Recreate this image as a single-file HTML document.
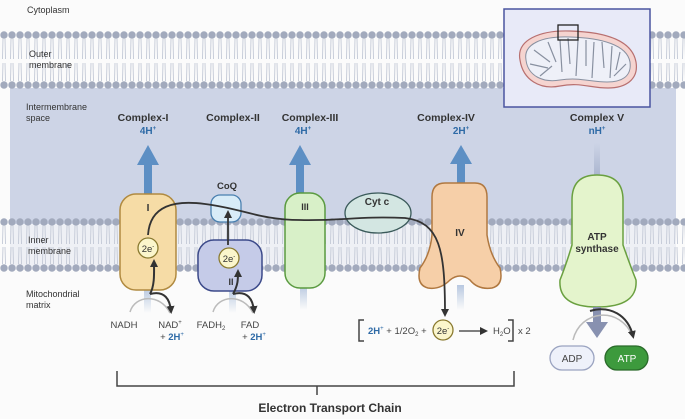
<!DOCTYPE html>
<html><head><meta charset="utf-8"><style>
html,body{margin:0;padding:0;background:#fbfbfb;}
svg{display:block;font-family:"Liberation Sans",sans-serif;}
</style></head><body>
<svg width="685" height="419" viewBox="0 0 685 419" xmlns="http://www.w3.org/2000/svg">
<defs>
<pattern id="lipO" x="0" y="0" width="8" height="58" patternUnits="userSpaceOnUse">
<path d="M3 8 L2.5 28 M5 8 L5.5 28 M3 32 L2.5 50 M5 32 L5.5 50" stroke="#c3c9d6" stroke-width="0.9" fill="none"/>
<circle cx="4" cy="4" r="3.7" fill="#a2aabd"/>
<circle cx="4" cy="54" r="3.7" fill="#a2aabd"/>
</pattern>
<pattern id="lipI" x="0" y="0" width="8" height="54" patternUnits="userSpaceOnUse">
<path d="M3 8 L2.5 26 M5 8 L5.5 26 M3 29 L2.5 46 M5 29 L5.5 46" stroke="#c3c9d6" stroke-width="0.9" fill="none"/>
<circle cx="4" cy="4" r="3.7" fill="#a2aabd"/>
<circle cx="4" cy="50" r="3.7" fill="#a2aabd"/>
</pattern>
<linearGradient id="fade" x1="0" y1="0" x2="0" y2="1"><stop offset="0" stop-color="#b8c8e0"/><stop offset="1" stop-color="#b8c8e0" stop-opacity="0"/></linearGradient>
<linearGradient id="fadeup" x1="0" y1="1" x2="0" y2="0"><stop offset="0" stop-color="#aab5cf"/><stop offset="1" stop-color="#aab5cf" stop-opacity="0"/></linearGradient>
<marker id="ah" markerWidth="8" markerHeight="8" refX="5" refY="4" orient="auto" markerUnits="userSpaceOnUse"><path d="M0 0 L8 4 L0 8 Z" fill="#333"/></marker>
</defs>
<rect width="685" height="419" fill="#fbfbfb"/>
<!-- intermembrane space -->
<rect x="10" y="88" width="666" height="182" fill="#cdd4e6"/>
<rect x="10" y="224" width="666" height="46" fill="#eef0f5"/>
<!-- membranes -->
<g transform="translate(0,31)"><rect x="0" y="0" width="685" height="58" fill="url(#lipO)"/></g>
<g transform="translate(0,218)"><rect x="0" y="0" width="685" height="54" fill="url(#lipI)"/></g>

<!-- text labels -->
<g font-size="9" fill="#333">
<text x="27" y="13">Cytoplasm</text>
<text x="29" y="57">Outer</text><text x="29" y="68">membrane</text>
<text x="26" y="110">Intermembrane</text><text x="26" y="121">space</text>
<text x="28" y="243">Inner</text><text x="28" y="254">membrane</text>
<text x="26" y="297">Mitochondrial</text><text x="26" y="308">matrix</text>
</g>
<g font-size="10.5" font-weight="bold" fill="#333" text-anchor="middle">
<text x="143" y="121">Complex-I</text>
<text x="233" y="121">Complex-II</text>
<text x="310" y="121">Complex-III</text>
<text x="446" y="121">Complex-IV</text>
<text x="597" y="121">Complex V</text>
</g>
<g font-size="10" font-weight="bold" fill="#2e6aa6" text-anchor="middle">
<text x="148" y="134">4H<tspan font-size="6" dy="-4">+</tspan></text>
<text x="303" y="134">4H<tspan font-size="6" dy="-4">+</tspan></text>
<text x="461" y="134">2H<tspan font-size="6" dy="-4">+</tspan></text>
<text x="597" y="134">nH<tspan font-size="6" dy="-4">+</tspan></text>
</g>
<!-- blue arrows -->
<g fill="#5d8fc4">
<path d="M144 195 V165 H137 L148 145 L159 165 H152 V195 Z"/>
<path d="M296 195 V165 H289 L300 145 L311 165 H304 V195 Z"/>
<path d="M457 185 V164 H450 L461 145 L472 164 H465 V185 Z"/>
</g>
<rect x="594" y="143" width="6" height="33" fill="url(#fadeup)"/>
<rect x="144" y="288" width="7" height="25" fill="url(#fade)"/>
<rect x="229" y="288" width="7" height="25" fill="url(#fade)"/>
<rect x="300" y="285" width="7" height="25" fill="url(#fade)"/>
<rect x="457" y="285" width="7" height="25" fill="url(#fade)"/>

<!-- inset -->
<rect x="504" y="9" width="146" height="98" fill="#e8eaf8" stroke="#4a55a0" stroke-width="1.5"/>
<path d="M520 60 C516 40 540 30 570 31 C605 32 632 40 636 62 C639 80 625 88 608 88 C590 88 580 82 560 86 C540 90 523 80 520 60 Z" fill="#f5d4d0" stroke="#b87070" stroke-width="1.2"/>
<path d="M526 60 C523 44 542 36 570 37 C602 38 627 45 630 62 C632 77 621 82 607 82 C590 82 580 77 560 80 C543 83 528 76 526 60 Z" fill="#eef0f8" stroke="#8890a0" stroke-width="1"/>
<g stroke="#8890a0" stroke-width="1.2" fill="none">
<path d="M534 50 L550 62 M530 64 L548 68 M540 76 L552 66 M548 42 L556 62 M560 40 L562 72 M568 38 L570 64 M578 40 L576 76 M586 40 L586 66 M594 42 L592 78 M602 42 L604 68 M612 46 L610 78 M620 52 L616 70 M626 64 L614 76"/>
</g>
<rect x="558" y="25" width="20" height="15" fill="none" stroke="#222" stroke-width="1.3"/>

<!-- Complex I -->
<rect x="120" y="194" width="56" height="96" rx="16" fill="#f6dca6" stroke="#b08a40" stroke-width="1.5"/>
<text x="148" y="211" font-size="10" font-weight="bold" fill="#333" text-anchor="middle">I</text>
<!-- CoQ -->
<text x="227" y="189" font-size="9.5" font-weight="bold" fill="#333" text-anchor="middle">CoQ</text>
<rect x="211" y="195" width="30" height="27" rx="9" fill="#d8ecf8" stroke="#4a80b0" stroke-width="1.3"/>
<!-- Complex II -->
<rect x="198" y="240" width="64" height="51" rx="16" fill="#c5cbe8" stroke="#3c4a8a" stroke-width="1.5"/>
<text x="231" y="285" font-size="9" font-weight="bold" fill="#333" text-anchor="middle">II</text>
<!-- Complex III -->
<rect x="285" y="193" width="40" height="95" rx="15" fill="#d8f0c8" stroke="#5a9a40" stroke-width="1.5"/>
<text x="305" y="210" font-size="9" font-weight="bold" fill="#333" text-anchor="middle">III</text>
<!-- Cyt c -->
<ellipse cx="378" cy="213" rx="33" ry="20" fill="#d3e6e2" stroke="#3a5a5a" stroke-width="1.3"/>
<text x="377" y="205" font-size="10" font-weight="bold" fill="#333" text-anchor="middle">Cyt c</text>
<!-- Complex IV -->
<path d="M445 183 H475 Q487 183 487 197 V235 Q490 255 500 268 Q504 285 492 288 Q478 290 470 280 Q460 272 450 280 Q440 290 428 288 Q416 285 420 268 Q430 255 432 235 V197 Q432 183 445 183 Z" fill="#f6cfa8" stroke="#b07840" stroke-width="1.5"/>
<text x="460" y="236" font-size="10" font-weight="bold" fill="#333" text-anchor="middle">IV</text>
<!-- Complex V -->
<path d="M597 175 Q623 175 623 200 V245 Q630 265 636 280 Q638 307 597 307 Q558 307 560 280 Q566 265 572 245 V200 Q572 175 597 175 Z" fill="#e4f4cc" stroke="#6aa040" stroke-width="1.5"/>
<text x="597" y="240" font-size="10" font-weight="bold" fill="#333" text-anchor="middle">ATP</text>
<text x="597" y="252" font-size="10" font-weight="bold" fill="#333" text-anchor="middle">synthase</text>

<!-- electron path -->
<path d="M148 235 C150 205 175 200 205 204 C240 208 260 220 300 220 C340 221 360 216 405 218 C440 222 445 250 445 314" fill="none" stroke="#333" stroke-width="1.8" marker-end="url(#ah)"/>
<path d="M228 245 V213" fill="none" stroke="#333" stroke-width="1.8" marker-end="url(#ah)"/>
<!-- 2e circles -->
<g font-size="9.5" fill="#333" text-anchor="middle">
<circle cx="148" cy="248" r="10" fill="#fbf6cc" stroke="#8a7a30" stroke-width="1.3"/>
<text x="148" y="252">2e<tspan font-size="6" dy="-4">-</tspan></text>
<circle cx="229" cy="258" r="10" fill="#fbf6cc" stroke="#8a7a30" stroke-width="1.3"/>
<text x="229" y="262">2e<tspan font-size="6" dy="-4">-</tspan></text>
<circle cx="443" cy="330" r="10" fill="#fbf6cc" stroke="#8a7a30" stroke-width="1.3"/>
<text x="443" y="334">2e<tspan font-size="6" dy="-4">-</tspan></text>
</g>
<!-- NADH arrows -->
<path d="M130 312 C135 295 160 293 170 313" fill="none" stroke="#bbb" stroke-width="1.5"/>
<path d="M150 294 C165 290 170 300 171 311" fill="none" stroke="#333" stroke-width="2" marker-end="url(#ah)"/>
<path d="M150 294 C155 285 154 272 154 262" fill="none" stroke="#333" stroke-width="2" marker-end="url(#ah)"/>
<path d="M213 312 C218 295 243 293 253 313" fill="none" stroke="#bbb" stroke-width="1.5"/>
<path d="M233 294 C248 290 253 300 254 311" fill="none" stroke="#333" stroke-width="2" marker-end="url(#ah)"/>
<path d="M233 294 C238 285 238 280 238 272" fill="none" stroke="#333" stroke-width="2" marker-end="url(#ah)"/>
<g font-size="9.5" fill="#444" text-anchor="middle">
<text x="124" y="328">NADH</text>
<text x="170" y="328">NAD<tspan font-size="6" dy="-4">+</tspan></text>
<text x="211" y="328">FADH<tspan font-size="6" dy="2">2</tspan></text>
<text x="250" y="328">FAD</text>
</g>
<g font-size="9.5" fill="#444" text-anchor="middle">
<text x="172" y="340">+ <tspan fill="#2e6aa6" font-weight="bold">2H</tspan><tspan font-size="6" dy="-4" fill="#2e6aa6">+</tspan></text>
<text x="254" y="340">+ <tspan fill="#2e6aa6" font-weight="bold">2H</tspan><tspan font-size="6" dy="-4" fill="#2e6aa6">+</tspan></text>
</g>
<!-- equation -->
<path d="M364 320 H359 V341 H364" fill="none" stroke="#444" stroke-width="1.5"/>
<text x="368" y="334" font-size="9.5" fill="#444"><tspan fill="#2e6aa6" font-weight="bold">2H</tspan><tspan font-size="6" dy="-4" fill="#2e6aa6">+</tspan><tspan dy="4"> + 1/2O</tspan><tspan font-size="6" dy="2">2</tspan><tspan dy="-2"> +</tspan></text>
<path d="M459 331 H485" stroke="#333" stroke-width="1.2" marker-end="url(#ah)"/>
<text x="493" y="334" font-size="9.5" fill="#444">H<tspan font-size="6" dy="2">2</tspan><tspan dy="-2">O</tspan></text>
<path d="M508 320 H513 V341 H508" fill="none" stroke="#444" stroke-width="1.5"/>
<text x="518" y="334" font-size="9.5" fill="#444">x 2</text>
<!-- ATP synthase arrows -->
<path d="M593 307 V322 H586 L597 338 L608 322 H601 V307 Z" fill="#8891b0"/>
<path d="M573 340 C580 310 620 305 633 337" fill="none" stroke="#bbb" stroke-width="1.5"/>
<path d="M590 311 C610 305 628 315 633 336" fill="none" stroke="#333" stroke-width="2" marker-end="url(#ah)"/>
<rect x="550" y="346" width="44" height="24" rx="12" fill="#eef1fa" stroke="#9aa3c0" stroke-width="1.3"/>
<text x="572" y="362" font-size="10" fill="#444" text-anchor="middle">ADP</text>
<rect x="605" y="346" width="43" height="24" rx="12" fill="#3d9a3d" stroke="#2a6a2a" stroke-width="1.3"/>
<text x="627" y="362" font-size="10" fill="#fff" text-anchor="middle">ATP</text>
<!-- bracket -->
<path d="M117 371 V386 H514 V371 M317 386 V395" fill="none" stroke="#444" stroke-width="1.5"/>
<text x="330" y="412" font-size="12" font-weight="bold" fill="#333" text-anchor="middle">Electron Transport Chain</text>
</svg>
</body></html>
